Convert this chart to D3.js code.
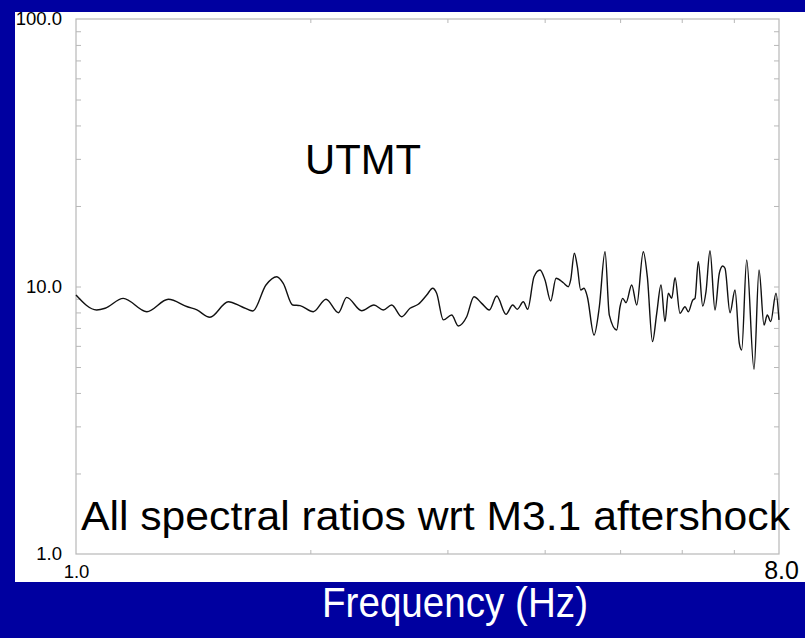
<!DOCTYPE html>
<html>
<head>
<meta charset="utf-8">
<script src="https://cdn.jsdelivr.net/npm/d3@7"></script>
<style>
  html, body { margin: 0; padding: 0; background: #0000a0; }
  svg { display: block; }
  text { font-family: "Liberation Sans", Arial, Helvetica, sans-serif; }
</style>
</head>
<body>
<svg id="chart" width="805" height="638"></svg>
<script>
// Spectral ratio at station UTMT (relative to the M3.1 aftershock)
const freq = [
  1.000, 1.063, 1.090, 1.150, 1.233, 1.314, 1.390, 1.430, 1.486, 1.569,
  1.633, 1.687, 1.754, 1.811, 1.846, 1.898, 1.940, 2.018, 2.095, 2.173,
  2.227, 2.328, 2.414, 2.482, 2.544, 2.621, 2.686, 2.752, 2.822, 2.872,
  2.906, 2.964, 3.038, 3.098, 3.176, 3.245, 3.320, 3.396, 3.471, 3.568,
  3.639, 3.689, 3.755, 3.804, 3.876, 3.945, 4.004, 4.072, 4.137, 4.227,
  4.290, 4.320, 4.367, 4.406, 4.450, 4.494, 4.538, 4.629, 4.702, 4.782,
  4.843, 4.950, 4.999, 5.039, 5.088, 5.175, 5.252, 5.355, 5.419, 5.503,
  5.572, 5.643, 5.710, 5.766, 5.825, 5.882, 5.969, 6.058, 6.118, 6.198,
  6.240, 6.301, 6.384, 6.446, 6.523, 6.620, 6.705, 6.773, 6.819, 6.921,
  7.024, 7.114, 7.164, 7.271, 7.430, 7.541, 7.653, 7.728, 7.806, 7.929,
  8.000
];
const ratio = [
  9.29, 8.17, 8.29, 9.03, 8.05, 8.96, 8.40, 8.17, 7.67, 8.77,
  8.40, 8.10, 10.13, 10.88, 10.28, 8.53, 8.48, 8.05, 8.96, 7.98,
  9.11, 8.12, 8.53, 8.17, 8.53, 7.71, 8.29, 8.58, 9.29, 9.85,
  9.43, 7.50, 7.82, 7.12, 7.71, 9.16, 8.65, 8.17, 9.21, 7.87,
  8.53, 8.22, 8.77, 8.22, 10.88, 11.53, 10.58, 8.83, 10.73, 10.33,
  9.98, 10.58, 13.31, 11.86, 9.70, 9.85, 9.16, 6.59, 8.40, 13.49,
  7.82, 6.88, 8.40, 9.03, 8.70, 10.13, 8.53, 13.49, 10.88, 6.22,
  7.94, 10.13, 7.39, 9.43, 9.03, 10.79, 7.94, 8.40, 8.05, 8.90,
  9.03, 12.38, 8.45, 9.56, 13.61, 8.17, 11.20, 11.93, 11.70, 7.98,
  9.70, 6.13, 5.79, 12.56, 4.90, 11.53, 7.18, 7.82, 7.39, 9.43,
  7.50
];

const xDomain = [1, 8];
const yDomain = [1, 100];
const xMinorTicks = [2, 3, 4, 5, 6, 7];
const yMinorTicks = [2, 3, 4, 5, 6, 7, 8, 9, 10, 20, 30, 40, 50, 60, 70, 80, 90];
const yTickLabels = [1, 10, 100];
const xTickLabels = [1, 8];

const stationLabel = "UTMT";
const noteLabel = "All spectral ratios wrt M3.1 aftershock";
const xAxisTitle = "Frequency (Hz)";

const svg = d3.select("#chart");

// White panel behind the plot
svg.append("rect")
  .attr("x", 15).attr("y", 12)
  .attr("width", 790).attr("height", 570)
  .attr("fill", "#ffffff");

const plot = { left: 76, right: 779, top: 19, bottom: 554 };

const x = d3.scaleLog().domain(xDomain).range([plot.left, plot.right]);
const y = d3.scaleLog().domain(yDomain).range([plot.bottom, plot.top]);

// Frame
svg.append("rect")
  .attr("x", plot.left).attr("y", plot.top)
  .attr("width", plot.right - plot.left)
  .attr("height", plot.bottom - plot.top)
  .attr("fill", "none")
  .attr("stroke", "#b8b8b8")
  .attr("stroke-width", 1.2);

// Inward minor ticks on all four sides
function minorAxis(axis, tx, ty) {
  const g = svg.append("g")
    .attr("transform", `translate(${tx},${ty})`)
    .call(axis);
  g.select(".domain").remove();
  g.selectAll(".tick line").attr("stroke", "#b8b8b8").attr("stroke-width", 1);
  g.selectAll(".tick text").remove();
}
minorAxis(d3.axisBottom(x).tickValues(xMinorTicks).tickSize(-4).tickFormat(""), 0, plot.bottom);
minorAxis(d3.axisTop(x).tickValues(xMinorTicks).tickSize(-4).tickFormat(""), 0, plot.top);
minorAxis(d3.axisLeft(y).tickValues(yMinorTicks).tickSize(-5).tickFormat(""), plot.left, 0);
minorAxis(d3.axisRight(y).tickValues(yMinorTicks).tickSize(-5).tickFormat(""), plot.right, 0);

// Y tick labels
const yLab = svg.append("g")
  .attr("transform", `translate(${plot.left},0)`)
  .call(d3.axisLeft(y).tickValues(yTickLabels).tickSize(0).tickPadding(14).tickFormat(d3.format(".1f")));
yLab.select(".domain").remove();
yLab.selectAll(".tick text")
  .attr("fill", "#000")
  .style("font-family", '"Liberation Sans", Arial, sans-serif')
  .style("font-size", "18.5px");

// X tick labels
const xLab = svg.append("g")
  .attr("transform", `translate(0,${plot.bottom})`)
  .call(d3.axisBottom(x).tickValues(xTickLabels).tickSize(0).tickFormat(d3.format(".1f")));
xLab.select(".domain").remove();
xLab.selectAll(".tick text")
  .attr("fill", "#000")
  .attr("dy", null)
  .attr("y", d => d === 8 ? 25 : 24)
  .attr("x", d => d === 8 ? 2 : 0)
  .style("font-family", '"Liberation Sans", Arial, sans-serif')
  .style("font-size", d => d === 8 ? "25px" : "18.5px");

// Spectral ratio curve
const line = d3.line()
  .x(d => x(d[0]))
  .y(d => y(d[1]))
  .curve(d3.curveMonotoneX);

svg.append("path")
  .datum(d3.zip(freq, ratio))
  .attr("d", line)
  .attr("fill", "none")
  .attr("stroke", "#111")
  .attr("stroke-width", 1.4)
  .attr("stroke-linejoin", "round");

// Annotations
svg.append("text")
  .attr("x", 305).attr("y", 174)
  .attr("font-size", 43)
  .attr("textLength", 116)
  .attr("lengthAdjust", "spacingAndGlyphs")
  .attr("fill", "#000")
  .text(stationLabel);

svg.append("text")
  .attr("x", 81).attr("y", 530)
  .attr("font-size", 40)
  .attr("textLength", 709)
  .attr("lengthAdjust", "spacingAndGlyphs")
  .attr("fill", "#000")
  .text(noteLabel);

svg.append("text")
  .attr("x", 455).attr("y", 617)
  .attr("text-anchor", "middle")
  .attr("font-size", 42)
  .attr("textLength", 266)
  .attr("lengthAdjust", "spacingAndGlyphs")
  .attr("fill", "#ffffff")
  .text(xAxisTitle);
</script>
</body>
</html>
